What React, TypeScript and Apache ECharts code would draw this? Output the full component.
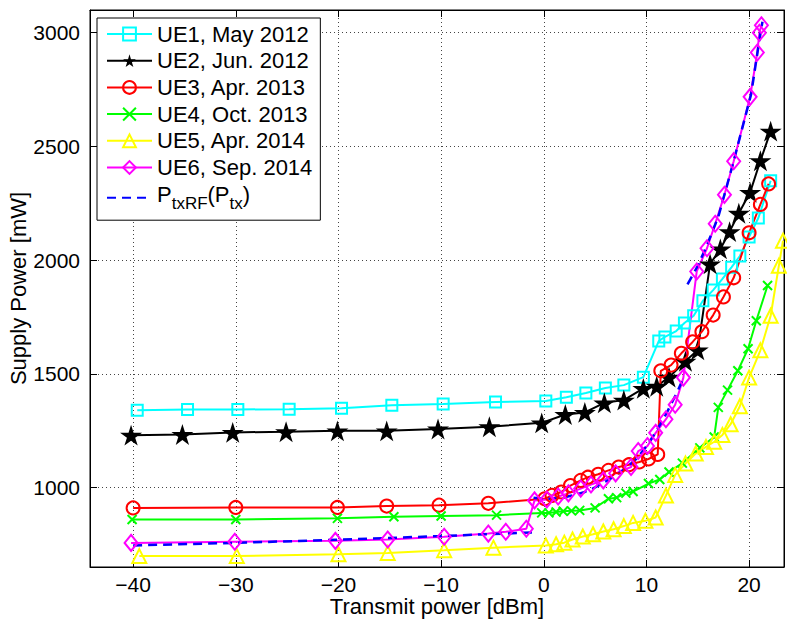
import React, { useEffect, useRef } from 'react';
import * as echarts from 'echarts';

const seriesNames = ['UE1, May 2012', 'UE2, Jun. 2012', 'UE3, Apr. 2013', 'UE4, Oct. 2013', 'UE5, Apr. 2014', 'UE6, Sep. 2014', 'PtxRF'];

const ue1X = [-39.6, -34.7, -29.8, -24.8, -19.7, -14.8, -9.8, -4.7, 0.2, 2.2, 4.1, 6.0, 7.8, 9.7, 11.2, 11.8, 12.9, 13.7, 14.6, 15.5, 16.5, 17.4, 18.3, 19.1, 20.0, 20.9, 22.1];
const ue1Y = [1340, 1343, 1343, 1344, 1348, 1362, 1367, 1376, 1380, 1397, 1415, 1437, 1450, 1485, 1644, 1662, 1688, 1723, 1755, 1821, 1868, 1917, 1969, 2018, 2102, 2185, 2349];

const ue2X = [-40.2, -35.2, -30.3, -25.1, -20.1, -15.3, -10.3, -5.3, -0.2, 2.1, 4.0, 5.9, 7.8, 9.7, 11.0, 12.2, 13.8, 15.0, 16.2, 17.2, 18.1, 19.0, 20.1, 21.1, 22.1];
const ue2Y = [1230, 1233, 1242, 1245, 1249, 1249, 1257, 1267, 1284, 1321, 1330, 1372, 1384, 1436, 1445, 1485, 1555, 1605, 1983, 2049, 2125, 2206, 2298, 2437, 2567];

const ue3X = [-40.0, -30.0, -20.1, -15.3, -10.2, -5.4, 0.1, 0.8, 1.7, 2.6, 3.6, 4.3, 5.3, 6.3, 7.3, 8.3, 9.3, 10.2, 11.1, 11.4, 12.4, 13.4, 14.5, 15.4, 16.5, 17.5, 18.5, 20.0, 21.1, 21.9];
const ue3Y = [910, 912, 912, 918, 922, 930, 950, 965, 980, 1008, 1031, 1045, 1058, 1075, 1090, 1100, 1112, 1125, 1145, 1513, 1538, 1590, 1640, 1685, 1758, 1838, 1922, 2120, 2245, 2335];

const ue4X = [-40.1, -30.0, -20.1, -14.6, -10.0, -4.6, -0.2, 0.5, 1.2, 1.9, 2.7, 3.5, 5.0, 6.3, 7.1, 8.0, 8.7, 10.2, 11.3, 12.2, 13.5, 15.2, 16.6, 17.0, 17.9, 18.9, 19.9, 20.7, 21.8];
const ue4Y = [859, 859, 864, 871, 874, 878, 888, 888, 892, 895, 897, 899, 910, 950, 955, 975, 982, 1017, 1035, 1068, 1107, 1174, 1222, 1352, 1428, 1513, 1610, 1733, 1888];

const ue5X = [-39.4, -29.9, -20.0, -15.2, -9.7, -4.9, 0.2, 1.2, 2.0, 2.8, 3.8, 4.8, 5.8, 6.8, 7.8, 8.7, 9.9, 10.9, 11.9, 12.8, 13.8, 14.8, 15.8, 16.6, 17.4, 18.2, 19.1, 20.0, 21.1, 22.1, 22.9, 23.3];
const ue5Y = [698, 698, 706, 712, 724, 735, 745, 750, 757, 771, 784, 794, 806, 816, 830, 844, 853, 868, 964, 1055, 1105, 1149, 1178, 1201, 1231, 1278, 1357, 1483, 1603, 1755, 1975, 2085];

const ue6X = [-40.2, -30.1, -20.3, -15.2, -9.7, -5.4, -3.7, -1.7, -0.9, 0.3, 1.4, 2.4, 3.6, 4.6, 5.8, 7.0, 8.5, 9.2, 10.1, 10.9, 11.9, 12.8, 13.6, 14.9, 15.9, 16.7, 17.6, 18.5, 20.1, 20.8, 21.0, 21.2];
const ue6Y = [756, 761, 765, 771, 783, 797, 805, 818, 943, 947, 960, 974, 995, 1013, 1031, 1062, 1090, 1160, 1182, 1240, 1300, 1364, 1483, 1950, 2052, 2160, 2287, 2435, 2718, 2913, 3000, 3033];

const ptxLowX = [-40, -30, -20, -10, -5, -1];
const ptxLowY = [745, 756, 770, 786, 795, 802];
const ptxMidX = [-1, 0, 1, 2, 3, 4, 5, 6, 7, 8, 9, 10, 11, 12, 13, 13.5];
const ptxMidY = [955, 950, 951, 957, 967, 980, 1000, 1025, 1052, 1085, 1125, 1180, 1250, 1330, 1420, 1470];
const ptxHighX = [14.0, 15.0, 15.8, 17.0, 18.4, 20.2, 21.0, 21.3];
const ptxHighY = [1893, 1975, 2055, 2190, 2419, 2730, 2967, 3048];

const xTicks = [-40, -30, -20, -10, 0, 10, 20];
const yTicks = [1000, 1500, 2000, 2500, 3000];

const FONT = '"Liberation Sans", Arial, Helvetica, sans-serif';
const STAR = 'path://M50,0 L61,35 L98,35 L68,57 L79,91 L50,70 L21,91 L32,57 L2,35 L39,35 Z';
const XMARK = 'path://M0,0 L10,10 M10,0 L0,10';

function pairs(xs: number[], ys: number[]) {
  return xs.map((x, i) => [x, ys[i]]);
}

function mk(name: string, xs: number[], ys: number[], color: string, symbol: string, size: any, filled: boolean) {
  return {
    type: 'line',
    name,
    data: pairs(xs, ys),
    xAxisIndex: 0,
    yAxisIndex: 0,
    symbol,
    symbolSize: size,
    showSymbol: true,
    showAllSymbol: true,
    symbolKeepAspect: true,
    lineStyle: { color, width: 2 },
    itemStyle: { color: filled ? color : 'transparent', borderColor: color, borderWidth: filled ? 0 : 2 },
    emphasis: { disabled: true },
    clip: true,
  };
}

const fmtX = (v: number) => (v < 0 ? '\u2212' + String(-v) : String(v));
const fmtY = (v: number) => String(v);

export default function App() {
  const ref = useRef<HTMLDivElement>(null);
  useEffect(() => {
    if (!ref.current) return;
    const chart = echarts.init(ref.current, null, { renderer: 'svg' });
    const ptxData: any[] = [
      ...pairs(ptxLowX, ptxLowY),
      [-1, null],
      ...pairs(ptxMidX, ptxMidY),
      [13.7, null],
      ...pairs(ptxHighX, ptxHighY),
    ];
    const option: any = {
      animation: false,
      backgroundColor: '#fff',
      textStyle: { fontFamily: FONT },
      grid: {
        left: 90, right: 3, top: 10, bottom: 53,
        containLabel: false, outerBoundsMode: 'none',
        show: true, borderColor: '#000', borderWidth: 1, backgroundColor: 'transparent',
      },
      legend: {
        orient: 'vertical',
        left: 97,
        top: 18,
        padding: [5, 8, 8, 9],
        itemWidth: 45,
        itemHeight: 16,
        itemGap: 4.7,
        backgroundColor: '#fff',
        borderColor: '#000',
        borderWidth: 1,
        selectedMode: false,
        data: seriesNames,
        textStyle: {
          fontSize: 22,
          fontFamily: FONT,
          color: '#000',
          rich: {
            n: { fontSize: 22, fontFamily: FONT, color: '#000', verticalAlign: 'bottom', padding: [0, 0, 7, 0] },
            s: { fontSize: 17, fontFamily: FONT, color: '#000', verticalAlign: 'bottom' },
          },
        },
        formatter: (name: string) => (name === 'PtxRF' ? '{n|P}{s|txRF}{n|(P}{s|tx}{n|)}' : name),
      },
      xAxis: [
        {
          type: 'value',
          min: -44.2,
          max: 23.4,
          name: 'Transmit power [dBm]',
          nameLocation: 'middle',
          nameGap: 28,
          nameMoveOverlap: false,
          nameTextStyle: { fontSize: 22, lineHeight: 22, fontFamily: FONT, color: '#000' },
          axisLine: { show: true, onZero: false, lineStyle: { color: '#000', width: 1 } },
          axisTick: { show: true, inside: true, length: 7, customValues: xTicks, lineStyle: { color: '#000' } },
          axisLabel: { customValues: xTicks, formatter: fmtX, fontSize: 21, lineHeight: 20, fontFamily: FONT, color: '#000', margin: 7 },
          splitLine: { show: true, lineStyle: { color: '#444', width: 1, type: [1, 3] } },
        },
        {
          type: 'value',
          position: 'top',
          min: -44.2,
          max: 23.4,
          axisLine: { show: true, onZero: false, lineStyle: { color: '#000', width: 1 } },
          axisTick: { show: true, inside: true, length: 7, customValues: xTicks, lineStyle: { color: '#000' } },
          axisLabel: { show: false },
          splitLine: { show: false },
        },
      ],
      yAxis: [
        {
          type: 'value',
          min: 650,
          max: 3100,
          name: 'Supply Power [mW]',
          nameLocation: 'middle',
          nameGap: 61,
          nameMoveOverlap: false,
          nameTextStyle: { fontSize: 22, fontFamily: FONT, color: '#000' },
          axisLine: { show: true, onZero: false, lineStyle: { color: '#000', width: 1 } },
          axisTick: { show: true, inside: true, length: 7, customValues: yTicks, lineStyle: { color: '#000' } },
          axisLabel: { customValues: yTicks, formatter: fmtY, fontSize: 21, fontFamily: FONT, color: '#000', margin: 10 },
          splitLine: { show: true, lineStyle: { color: '#444', width: 1, type: [1, 3] } },
        },
        {
          type: 'value',
          position: 'right',
          min: 650,
          max: 3100,
          axisLine: { show: true, onZero: false, lineStyle: { color: '#000', width: 1 } },
          axisTick: { show: true, inside: true, length: 7, customValues: yTicks, lineStyle: { color: '#000' } },
          axisLabel: { show: false },
          splitLine: { show: false },
        },
      ],
      series: [
        mk(seriesNames[0], ue1X, ue1Y, '#00ffff', 'rect', 11, false),
        mk(seriesNames[1], ue2X, ue2Y, '#000000', STAR, 22, true),
        mk(seriesNames[2], ue3X, ue3Y, '#ff0000', 'circle', 13, false),
        mk(seriesNames[3], ue4X, ue4Y, '#00ff00', XMARK, 9, false),
        mk(seriesNames[4], ue5X, ue5Y, '#ffff00', 'triangle', 14, false),
        mk(seriesNames[5], ue6X, ue6Y, '#ff00ff', 'diamond', [13, 16], false),
        {
          type: 'line',
          name: seriesNames[6],
          data: ptxData,
          xAxisIndex: 0,
          yAxisIndex: 0,
          symbol: 'circle',
          showSymbol: false,
          symbolSize: 0,
          connectNulls: false,
          lineStyle: { color: '#0000ff', width: 2.5, type: [9, 6] },
          itemStyle: { color: 'transparent', borderWidth: 0 },
          emphasis: { disabled: true },
          clip: true,
        },
      ],
    };
    chart.setOption(option);
    return () => chart.dispose();
  }, []);
  return <div ref={ref} style={{ position: 'fixed', left: 0, top: 0, width: 787, height: 620, background: '#fff' }} />;
}
